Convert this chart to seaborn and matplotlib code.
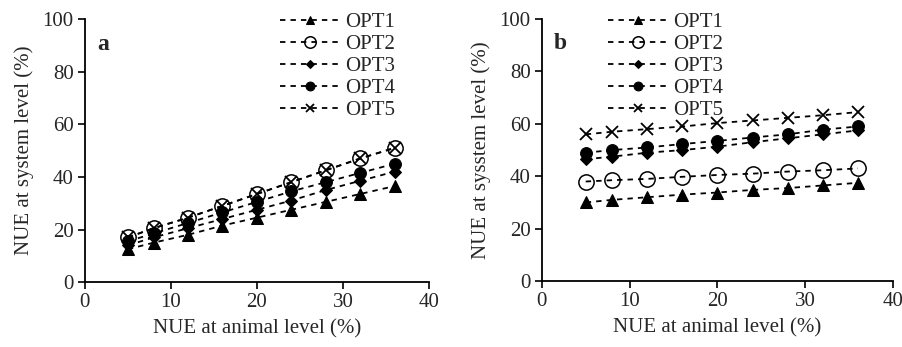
import matplotlib
matplotlib.use("Agg")
import matplotlib.pyplot as plt
import seaborn as sns
import pandas as pd

sns.set_theme(style="ticks")
plt.rcParams['font.family'] = ['Liberation Serif', 'DejaVu Serif']
plt.rcParams['font.size'] = 15

animal_nue = [5, 8, 12, 16, 20, 24, 28, 32, 36]
series_names = ["OPT1", "OPT2", "OPT3", "OPT4", "OPT5"]

a_opt1 = [12.5, 15, 18, 21.5, 24.5, 27.5, 30.5, 33.5, 36.5]
a_opt2 = [17, 20.5, 24.5, 29, 33.5, 38, 42.5, 47, 51]
a_opt3 = [14, 17, 20.5, 24, 27.5, 31, 35, 38.5, 42]
a_opt4 = [15.5, 18.5, 22.5, 26.5, 30.5, 34.5, 38, 41.5, 45]
a_opt5 = [17, 20.5, 24.5, 29, 33.5, 38, 42.5, 47, 51]

b_opt1 = [30, 31, 32, 33, 33.8, 34.8, 35.5, 36.5, 37.5]
b_opt2 = [38, 38.5, 39, 39.8, 40.5, 41, 41.8, 42.3, 43]
b_opt3 = [46.5, 47.5, 49, 50, 51.3, 53, 54.5, 56, 57.5]
b_opt4 = [49, 50, 51, 52.3, 53.5, 54.8, 56, 57.8, 59]
b_opt5 = [56, 57, 58, 59, 60.3, 61.3, 62.3, 63.3, 64.5]

panels = {
    "a": [a_opt1, a_opt2, a_opt3, a_opt4, a_opt5],
    "b": [b_opt1, b_opt2, b_opt3, b_opt4, b_opt5],
}
y_labels = {"a": "NUE at system level (%)", "b": "NUE at sysstem level (%)"}

styles = [
    dict(marker="^", markersize=8.5, markerfacecolor="black", markeredgecolor="black"),
    dict(marker="o", markersize=11, markerfacecolor="none", markeredgecolor="black", markeredgewidth=1.1),
    dict(marker="D", markersize=6, markerfacecolor="black", markeredgecolor="black"),
    dict(marker="o", markersize=8.5, markerfacecolor="black", markeredgecolor="black"),
    dict(marker="x", markersize=8, markeredgecolor="black", markeredgewidth=1.3),
]

fig = plt.figure(figsize=(9.03, 3.47), dpi=100)
ax_a = fig.add_axes([0.094, 0.187, 0.381, 0.758])
ax_b = fig.add_axes([0.600, 0.190, 0.389, 0.755])

for key, ax in (("a", ax_a), ("b", ax_b)):
    for name, vals, st in zip(series_names, panels[key], styles):
        df = pd.DataFrame({"x": animal_nue, "y": vals})
        sns.lineplot(data=df, x="x", y="y", ax=ax, color="black",
                     linewidth=1.3, dashes=False, label=name, **st)
        ax.lines[-1].set_linestyle((0, (3.0, 2.8)))
    ax.set_xlim(0, 40)
    ax.set_ylim(0, 100)
    ax.set_xticks([0, 10, 20, 30, 40])
    ax.set_yticks([0, 20, 40, 60, 80, 100])
    ax.set_xlabel("NUE at animal level (%)", fontsize=15, labelpad=5)
    ax.set_ylabel(y_labels[key], fontsize=15, labelpad=6)
    ax.tick_params(axis="both", labelsize=15, direction="out", length=5, width=1.2,
                   color="black", pad=3)
    for s in ("top", "right"):
        ax.spines[s].set_visible(False)
    for s in ("left", "bottom"):
        ax.spines[s].set_color("black")
        ax.spines[s].set_linewidth(1.3)
    ax.text(0.035, 0.905, key, transform=ax.transAxes, fontsize=17, fontweight="bold",
            va="center")

leg_kw = dict(frameon=False, handlelength=2.9, handletextpad=0.25, labelspacing=0.12,
              fontsize=15, borderaxespad=0, borderpad=0, markerscale=0.75)
ax_a.legend(loc="upper left", bbox_to_anchor=(0.567, 1.025), **leg_kw)
ax_b.legend(loc="upper left", bbox_to_anchor=(0.188, 1.025), **leg_kw)

fig.savefig("out.png", dpi=100)
